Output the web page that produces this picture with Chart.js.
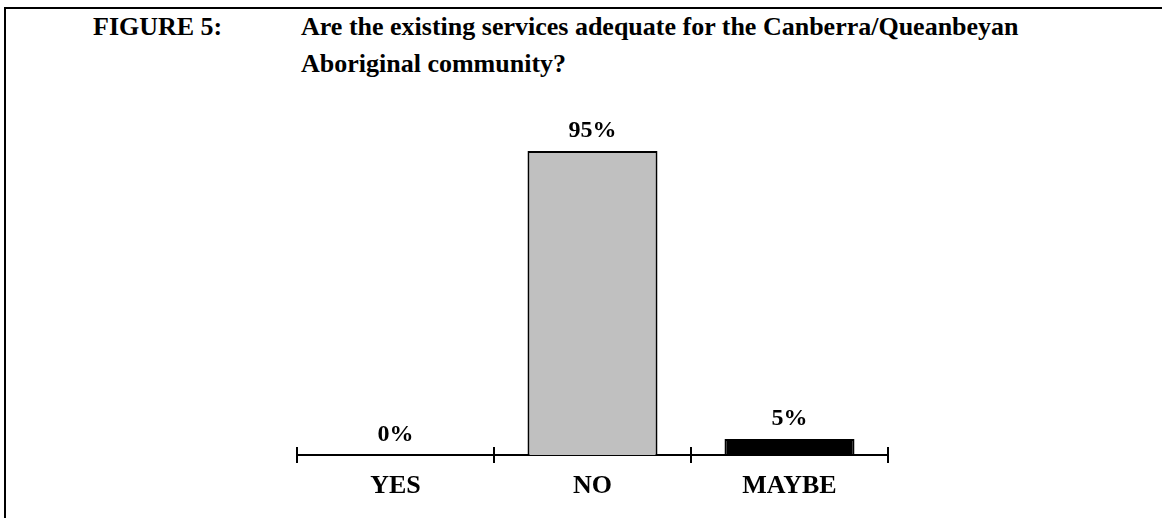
<!DOCTYPE html>
<html>
<head>
<meta charset="utf-8">
<script src="https://cdn.jsdelivr.net/npm/chart.js@4.4.1/dist/chart.umd.min.js"></script>
<style>
  html, body { margin: 0; padding: 0; background: #fff; }
  #wrap { position: relative; width: 1162px; height: 518px; overflow: hidden; }
  #frame { position: absolute; left: 4px; top: 7px; right: -10px; bottom: -10px;
           border-top: 2px solid #000; border-left: 2px solid #000; }
  .ttl { position: absolute; font-family: "Liberation Serif", "Times New Roman", serif;
         font-weight: bold; font-size: 26px; line-height: 37px; color: #000; white-space: nowrap; }
  #fig { left: 93px; top: 8px; }
  #q { left: 301px; top: 8px; }
  canvas { position: absolute; left: 0; top: 0; }
</style>
</head>
<body>
<div id="wrap">
  <div id="frame"></div>
  <div class="ttl" id="fig">FIGURE 5:</div>
  <div class="ttl" id="q">Are the existing services adequate for the Canberra/Queanbeyan<br>Aboriginal community?</div>
  <canvas id="c" width="1162" height="518"></canvas>
</div>
<script>
// Survey answers and the share of respondents giving each one (%)
const categories = ['YES', 'NO', 'MAYBE'];
const percentages = [0, 95, 5];
const barColors = ['#c0c0c0', '#c0c0c0', '#000000'];

const serif = '"Liberation Serif", "Times New Roman", serif';

// Percentage written above each bar
const valueLabels = {
  id: 'valueLabels',
  afterDatasetsDraw(chart) {
    const ctx = chart.ctx;
    const meta = chart.getDatasetMeta(0);
    ctx.save();
    ctx.font = 'bold 24px ' + serif;
    ctx.fillStyle = '#000';
    ctx.textAlign = 'center';
    ctx.textBaseline = 'alphabetic';
    meta.data.forEach((bar, i) => {
      ctx.fillText(percentages[i] + '%', bar.x, bar.y - 14);
    });
    ctx.restore();
  }
};

// Tick marks crossing the axis at each category boundary
const boundaryTicks = {
  id: 'boundaryTicks',
  afterDraw(chart) {
    const xs = chart.scales.x;
    const ctx = chart.ctx;
    const half = (xs.getPixelForValue(1) - xs.getPixelForValue(0)) / 2;
    const y = chart.chartArea.bottom;
    ctx.save();
    ctx.strokeStyle = '#000';
    ctx.lineWidth = 2;
    for (let i = 0; i <= categories.length; i++) {
      const x = Math.round(xs.getPixelForValue(0) - half + i * 2 * half);
      ctx.beginPath();
      ctx.moveTo(x, y - 8);
      ctx.lineTo(x, y + 8);
      ctx.stroke();
    }
    ctx.restore();
  }
};

new Chart(document.getElementById('c'), {
  type: 'bar',
  data: {
    labels: categories,
    datasets: [{
      data: percentages,
      backgroundColor: barColors,
      borderColor: '#000',
      borderWidth: 2,
      categoryPercentage: 1,
      barPercentage: 0.66
    }]
  },
  options: {
    responsive: false,
    animation: false,
    layout: { padding: { left: 297, right: 274, top: 135, bottom: 0 } },
    plugins: { legend: { display: false }, tooltip: { enabled: false }, title: { display: false } },
    scales: {
      y: { display: false, min: 0, max: 100 },
      x: {
        grid: { display: false },
        border: { display: true, color: '#000', width: 2 },
        ticks: { color: '#000', padding: 8, font: { family: serif, size: 26, weight: 'bold' } },
        afterFit(scale) { scale.height = 63; }
      }
    }
  },
  plugins: [valueLabels, boundaryTicks]
});
</script>
</body>
</html>
